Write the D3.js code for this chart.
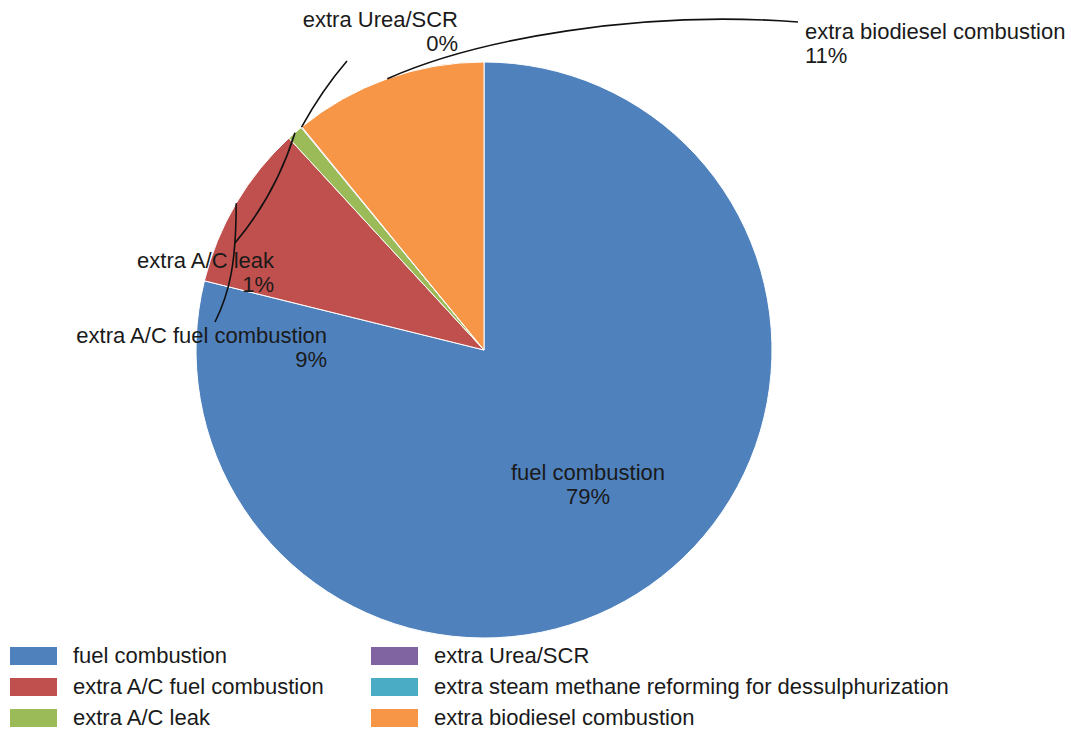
<!DOCTYPE html>
<html><head><meta charset="utf-8">
<script src="https://cdnjs.cloudflare.com/ajax/libs/d3/7.8.5/d3.min.js"></script>
<style>
html,body{margin:0;padding:0;background:#fff;}
text{font-family:"Liberation Sans",Arial,sans-serif;fill:#1a1a1a;}
</style></head>
<body>
<svg id="chart" width="1071" height="731"></svg>
<script>
const categories = ["fuel combustion","extra A/C fuel combustion","extra A/C leak","extra Urea/SCR","extra steam methane reforming for dessulphurization","extra biodiesel combustion"];
const values = [78.9, 9.3, 0.9, 0.05, 0, 10.9];
const colors = ["#4F81BD","#C0504D","#9BBB59","#8064A2","#4BACC6","#F79646"];

const W = 1071, H = 731;
const cx = 484, cy = 350, R = 288;
const fs = 22;
const svg = d3.select("#chart");

const data = categories.map((c,i)=>({cat:c, value:values[i], color:colors[i]}));
const total = d3.sum(values);
const pct = d3.format(".0%");

const pie = d3.pie().sort(null).value(d=>d.value);
const arcs = pie(data);
const arc = d3.arc().innerRadius(0).outerRadius(R);

const g = svg.append("g").attr("transform",`translate(${cx},${cy})`);
g.selectAll("path.slice").data(arcs.filter(a=>a.data.value>0)).join("path")
  .attr("class","slice")
  .attr("d",arc)
  .attr("fill",d=>d.data.color)
  .attr("stroke","#fff").attr("stroke-width",1);

function edge(a){ const m=(a.startAngle+a.endAngle)/2; return [cx+Math.sin(m)*R, cy-Math.cos(m)*R]; }

const labelLayout = [
  {i:0, x:588, y:480, anchor:"middle"},
  {i:1, x:327, y:343, anchor:"end"},
  {i:2, x:274, y:268, anchor:"end"},
  {i:3, x:458, y:27, anchor:"end"},
  {i:5, x:805, y:39, anchor:"start"}
];
const lg = svg.append("g");
labelLayout.forEach(L=>{
  const d = data[L.i];
  const t = lg.append("text").attr("text-anchor",L.anchor).attr("font-size",fs);
  t.append("tspan").attr("x",L.x).attr("y",L.y).text(d.cat);
  t.append("tspan").attr("x",L.x).attr("y",L.y+24).text(pct(d.value/total));
});

const ll = svg.append("g").attr("fill","none").attr("stroke","#111").attr("stroke-width",1.6);
const pB = edge(arcs[5]);
ll.append("path").attr("d",`M${pB[0]},${pB[1]} C${pB[0]+90},${pB[1]-40} 640,10 798,22`);
const pU = edge(arcs[3]);
ll.append("path").attr("d",`M347,61 Q322,90 ${pU[0]},${pU[1]}`);
const pL = edge(arcs[2]);
ll.append("path").attr("d",`M${pL[0]},${pL[1]} Q276,194 235,243`);
const pF = edge(arcs[1]);
ll.append("path").attr("d",`M${pF[0]},${pF[1]} C${pF[0]},262 230,292 215,322`);

const legend = svg.append("g");
data.forEach((d,i)=>{
  const col = Math.floor(i/3), row = i%3;
  const x = col===0 ? 10 : 371, y = 647 + row*31;
  legend.append("rect").attr("x",x).attr("y",y).attr("width",47).attr("height",18).attr("fill",d.color);
  legend.append("text").attr("x",x+63).attr("y",y+16).attr("font-size",fs).text(d.cat);
});
</script>
</body></html>
